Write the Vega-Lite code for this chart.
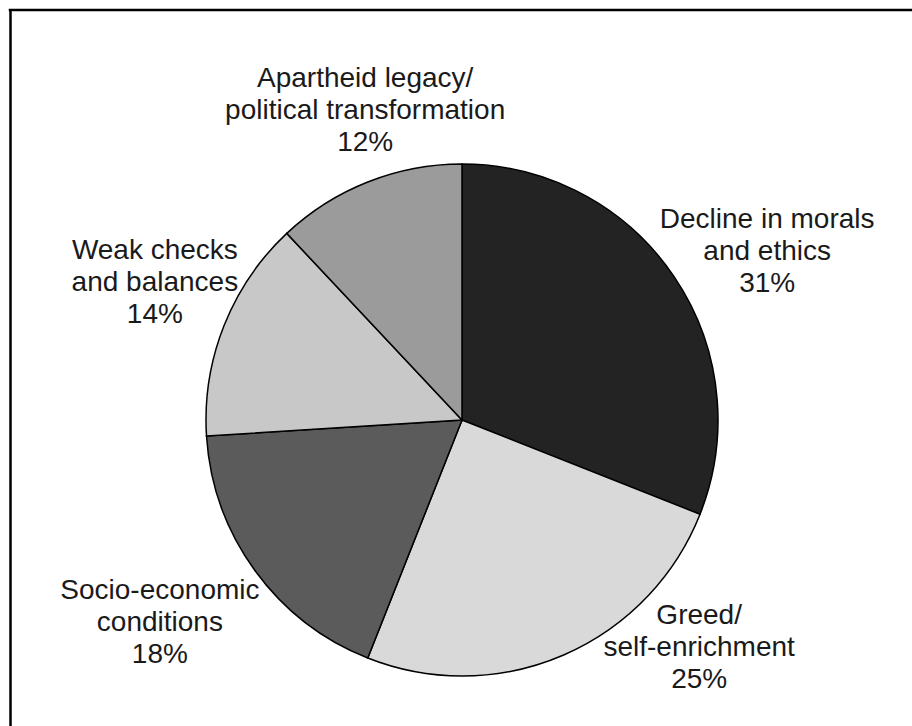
{
  "$schema": "https://vega.github.io/schema/vega-lite/v6.json",
  "width": 902,
  "height": 716,
  "autosize": {"type": "none"},
  "padding": {"left": 10, "top": 10, "right": 0, "bottom": 0},
  "background": "white",
  "config": {"view": {"stroke": null}},
  "data": {"values": [
    {"order": 1, "cat": "Decline", "value": 31, "label": "Decline in morals\nand ethics\n31%"},
    {"order": 2, "cat": "Greed", "value": 25, "label": "Greed/\nself-enrichment\n25%"},
    {"order": 3, "cat": "Socio", "value": 18, "label": "Socio-economic\nconditions\n18%"},
    {"order": 4, "cat": "Weak", "value": 14, "label": "Weak checks\nand balances\n14%"},
    {"order": 5, "cat": "Apartheid", "value": 12, "label": "Apartheid legacy/\npolitical transformation\n12%"}
  ]},
  "layer": [
    {
      "data": {"values": [{"edge": 1}]},
      "mark": {"type": "rule", "stroke": "black", "strokeWidth": 2.5, "strokeCap": "square"},
      "encoding": {
        "y": {"field": "edge", "type": "quantitative", "scale": {"domain": [0, 1], "nice": false},
              "axis": {"orient": "left", "domain": true, "domainColor": "black", "domainWidth": 2.5, "domainCap": "square", "ticks": false, "labels": false, "grid": false, "title": null}}
      }
    },
    {
      "mark": {"type": "arc", "outerRadius": 256, "stroke": "black", "strokeWidth": 1.5, "xOffset": 1, "yOffset": 52},
      "encoding": {
        "theta": {"field": "value", "type": "quantitative", "stack": true},
        "order": {"field": "order", "type": "quantitative"},
        "color": {"field": "cat", "type": "nominal", "legend": null,
          "scale": {"domain": ["Decline", "Greed", "Socio", "Weak", "Apartheid"],
                    "range": ["#232323", "#d9d9d9", "#5b5b5b", "#c8c8c8", "#9b9b9b"]}}
      }
    },
    {
      "mark": {"type": "text", "radius": 346, "dx": 19, "dy": -6, "xOffset": 1, "yOffset": 52, "lineBreak": "\n", "font": "Liberation Sans", "fontSize": 28, "lineHeight": 32, "align": "center", "baseline": "middle", "color": "#1a1a1a"},
      "encoding": {
        "theta": {"field": "value", "type": "quantitative", "stack": true},
        "order": {"field": "order", "type": "quantitative"},
        "text": {"condition": {"test": "datum.cat === 'Decline'", "field": "label"}, "value": ""}}
    },
    {
      "mark": {"type": "text", "radius": 300, "dx": 118, "dy": -79, "xOffset": 1, "yOffset": 52, "lineBreak": "\n", "font": "Liberation Sans", "fontSize": 28, "lineHeight": 32, "align": "center", "baseline": "middle", "color": "#1a1a1a"},
      "encoding": {
        "theta": {"field": "value", "type": "quantitative", "stack": true},
        "order": {"field": "order", "type": "quantitative"},
        "text": {"condition": {"test": "datum.cat === 'Greed'", "field": "label"}, "value": ""}}
    },
    {
      "mark": {"type": "text", "radius": 345, "dx": -23, "dy": -32, "xOffset": 1, "yOffset": 52, "lineBreak": "\n", "font": "Liberation Sans", "fontSize": 28, "lineHeight": 32, "align": "center", "baseline": "middle", "color": "#1a1a1a"},
      "encoding": {
        "theta": {"field": "value", "type": "quantitative", "stack": true},
        "order": {"field": "order", "type": "quantitative"},
        "text": {"condition": {"test": "datum.cat === 'Socio'", "field": "label"}, "value": ""}}
    },
    {
      "mark": {"type": "text", "radius": 340, "dx": 9, "dy": -44, "xOffset": 1, "yOffset": 52, "lineBreak": "\n", "font": "Liberation Sans", "fontSize": 28, "lineHeight": 32, "align": "center", "baseline": "middle", "color": "#1a1a1a"},
      "encoding": {
        "theta": {"field": "value", "type": "quantitative", "stack": true},
        "order": {"field": "order", "type": "quantitative"},
        "text": {"condition": {"test": "datum.cat === 'Weak'", "field": "label"}, "value": ""}}
    },
    {
      "mark": {"type": "text", "radius": 350, "dx": 32, "dy": -16, "xOffset": 1, "yOffset": 52, "lineBreak": "\n", "font": "Liberation Sans", "fontSize": 28, "lineHeight": 32, "align": "center", "baseline": "middle", "color": "#1a1a1a"},
      "encoding": {
        "theta": {"field": "value", "type": "quantitative", "stack": true},
        "order": {"field": "order", "type": "quantitative"},
        "text": {"condition": {"test": "datum.cat === 'Apartheid'", "field": "label"}, "value": ""}}
    }
  ]
}
